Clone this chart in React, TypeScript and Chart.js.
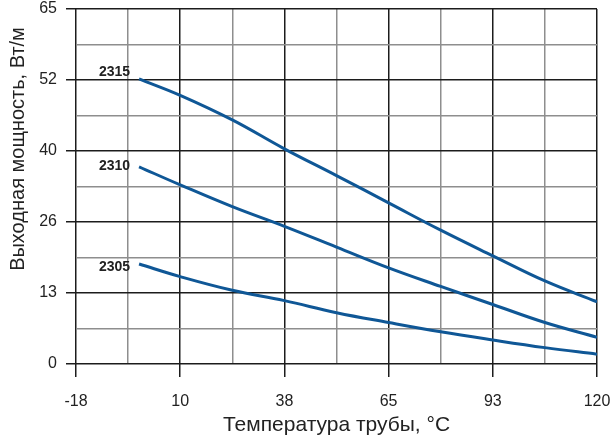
import React, { useEffect, useRef } from "react";
import { Chart, registerables } from "chart.js";

Chart.register(...registerables);

// Pipe temperature, °C (points read at the grid lines)
const xTempC = [-1.3, 9.6, 23.4, 37.2, 51.0, 64.8, 78.6, 92.4, 106.2, 120];
// Output power, W/m
const series2315 = [52.2, 49.2, 44.7, 39.4, 34.5, 29.5, 24.5, 19.8, 15.2, 11.4];
const series2310 = [36.1, 32.8, 28.8, 25.2, 21.4, 17.6, 14.2, 10.9, 7.6, 4.9];
const series2305 = [18.3, 16.0, 13.5, 11.6, 9.4, 7.6, 5.9, 4.4, 3.0, 1.8];
const seriesNames = ["2315", "2310", "2305"];

const xTickLabels = ["-18", "10", "38", "65", "93", "120"];
const yTickLabels = ["0", "13", "26", "40", "52", "65"];
const xTitle = "Температура трубы, °C";
const yTitle = "Выходная мощность, Вт/м";

const X_MIN = -18;
const X_MAX = 120;
const Y_MIN = 0;
const Y_MAX = 65;

const LINE_COLOR = "#0f5796";
const FONT = "'Liberation Sans', Arial, sans-serif";
const LABEL_DY = [-7, -1, 3];

export default function App() {
  const canvasRef = useRef<HTMLCanvasElement | null>(null);

  useEffect(() => {
    const canvas = canvasRef.current;
    if (!canvas) return;

    const mk = (vals: number[]) => xTempC.map((x, i) => ({ x, y: vals[i] }));

    const gridColor = (ctx: any) => (ctx.index % 2 === 0 ? "#1c1c1c" : "#8e8e8e");
    const tickColor = (ctx: any) => (ctx.index % 2 === 0 ? "#1c1c1c" : "rgba(0,0,0,0)");
    const zeroPad = (scale: any) => {
      scale.paddingTop = 0;
      scale.paddingBottom = 0;
      scale.paddingLeft = 0;
      scale.paddingRight = 0;
    };

    const labelPlugin = {
      id: "seriesLabels",
      afterDatasetsDraw(chart: any) {
        const ctx = chart.ctx;
        ctx.save();
        ctx.font = `bold 14px ${FONT}`;
        ctx.fillStyle = "#222";
        ctx.textAlign = "right";
        ctx.textBaseline = "middle";
        chart.data.datasets.forEach((ds: any, i: number) => {
          const meta = chart.getDatasetMeta(i);
          const p = meta.data[0];
          if (!p) return;
          ctx.fillText(ds.label, p.x - 9, p.y + LABEL_DY[i]);
        });
        ctx.restore();
      },
    };

    const yTitlePlugin = {
      id: "yTitle",
      afterDraw(chart: any) {
        const ctx = chart.ctx;
        ctx.save();
        ctx.font = `20px ${FONT}`;
        ctx.fillStyle = "#222";
        ctx.textAlign = "center";
        ctx.textBaseline = "middle";
        ctx.translate(18, chart.chartArea.top + 140);
        ctx.rotate(-Math.PI / 2);
        ctx.fillText(yTitle, 0, 0);
        ctx.restore();
      },
    };

    const chart = new Chart(canvas, {
      type: "line",
      data: {
        datasets: [
          { label: seriesNames[0], data: mk(series2315) },
          { label: seriesNames[1], data: mk(series2310) },
          { label: seriesNames[2], data: mk(series2305) },
        ].map((d) => ({
          ...d,
          borderColor: LINE_COLOR,
          borderWidth: 3,
          pointRadius: 0,
          fill: false,
          tension: 0.4,
        })),
      },
      options: {
        animation: false,
        responsive: false,
        layout: { padding: { left: 0, top: 9, right: 19, bottom: 3 } },
        plugins: {
          legend: { display: false },
          tooltip: { enabled: false },
        },
        scales: {
          x: {
            type: "linear",
            min: X_MIN,
            max: X_MAX,
            afterBuildTicks: (scale: any) => {
              const n = (xTickLabels.length - 1) * 2;
              scale.ticks = Array.from({ length: n + 1 }, (_, i) => ({
                value: X_MIN + ((X_MAX - X_MIN) * i) / n,
              }));
            },
            afterFit: (scale: any) => {
              scale.height = 441 - 364 - 3;
              zeroPad(scale);
            },
            grid: {
              color: gridColor,
              tickColor: tickColor,
              lineWidth: 1.5,
              tickLength: 13,
              drawTicks: true,
            },
            border: { display: false },
            ticks: {
              autoSkip: false,
              maxRotation: 0,
              padding: 15,
              color: "#222",
              font: { family: FONT, size: 16 },
              callback: (_v: any, i: number) => (i % 2 === 0 ? xTickLabels[i / 2] : ""),
            },
            title: {
              display: true,
              text: xTitle,
              color: "#222",
              font: { family: FONT, size: 21 },
              padding: { top: 4, bottom: 0 },
            },
          },
          y: {
            type: "linear",
            min: Y_MIN,
            max: Y_MAX,
            afterBuildTicks: (scale: any) => {
              const n = (yTickLabels.length - 1) * 2;
              scale.ticks = Array.from({ length: n + 1 }, (_, i) => ({
                value: Y_MIN + ((Y_MAX - Y_MIN) * i) / n,
              }));
            },
            afterFit: (scale: any) => {
              scale.width = 76;
              zeroPad(scale);
            },
            grid: {
              color: gridColor,
              tickColor: tickColor,
              lineWidth: 1.5,
              tickLength: 10,
              drawTicks: true,
            },
            border: { display: false },
            ticks: {
              autoSkip: false,
              padding: 9,
              color: "#222",
              font: { family: FONT, size: 16 },
              callback: (_v: any, i: number) => (i % 2 === 0 ? yTickLabels[i / 2] : ""),
            },
          },
        },
      },
      plugins: [labelPlugin, yTitlePlugin],
    });

    return () => chart.destroy();
  }, []);

  return (
    <div style={{ position: "fixed", left: 0, top: 0, width: 616, height: 441, background: "#fff" }}>
      <canvas ref={canvasRef} width={616} height={441} />
    </div>
  );
}
